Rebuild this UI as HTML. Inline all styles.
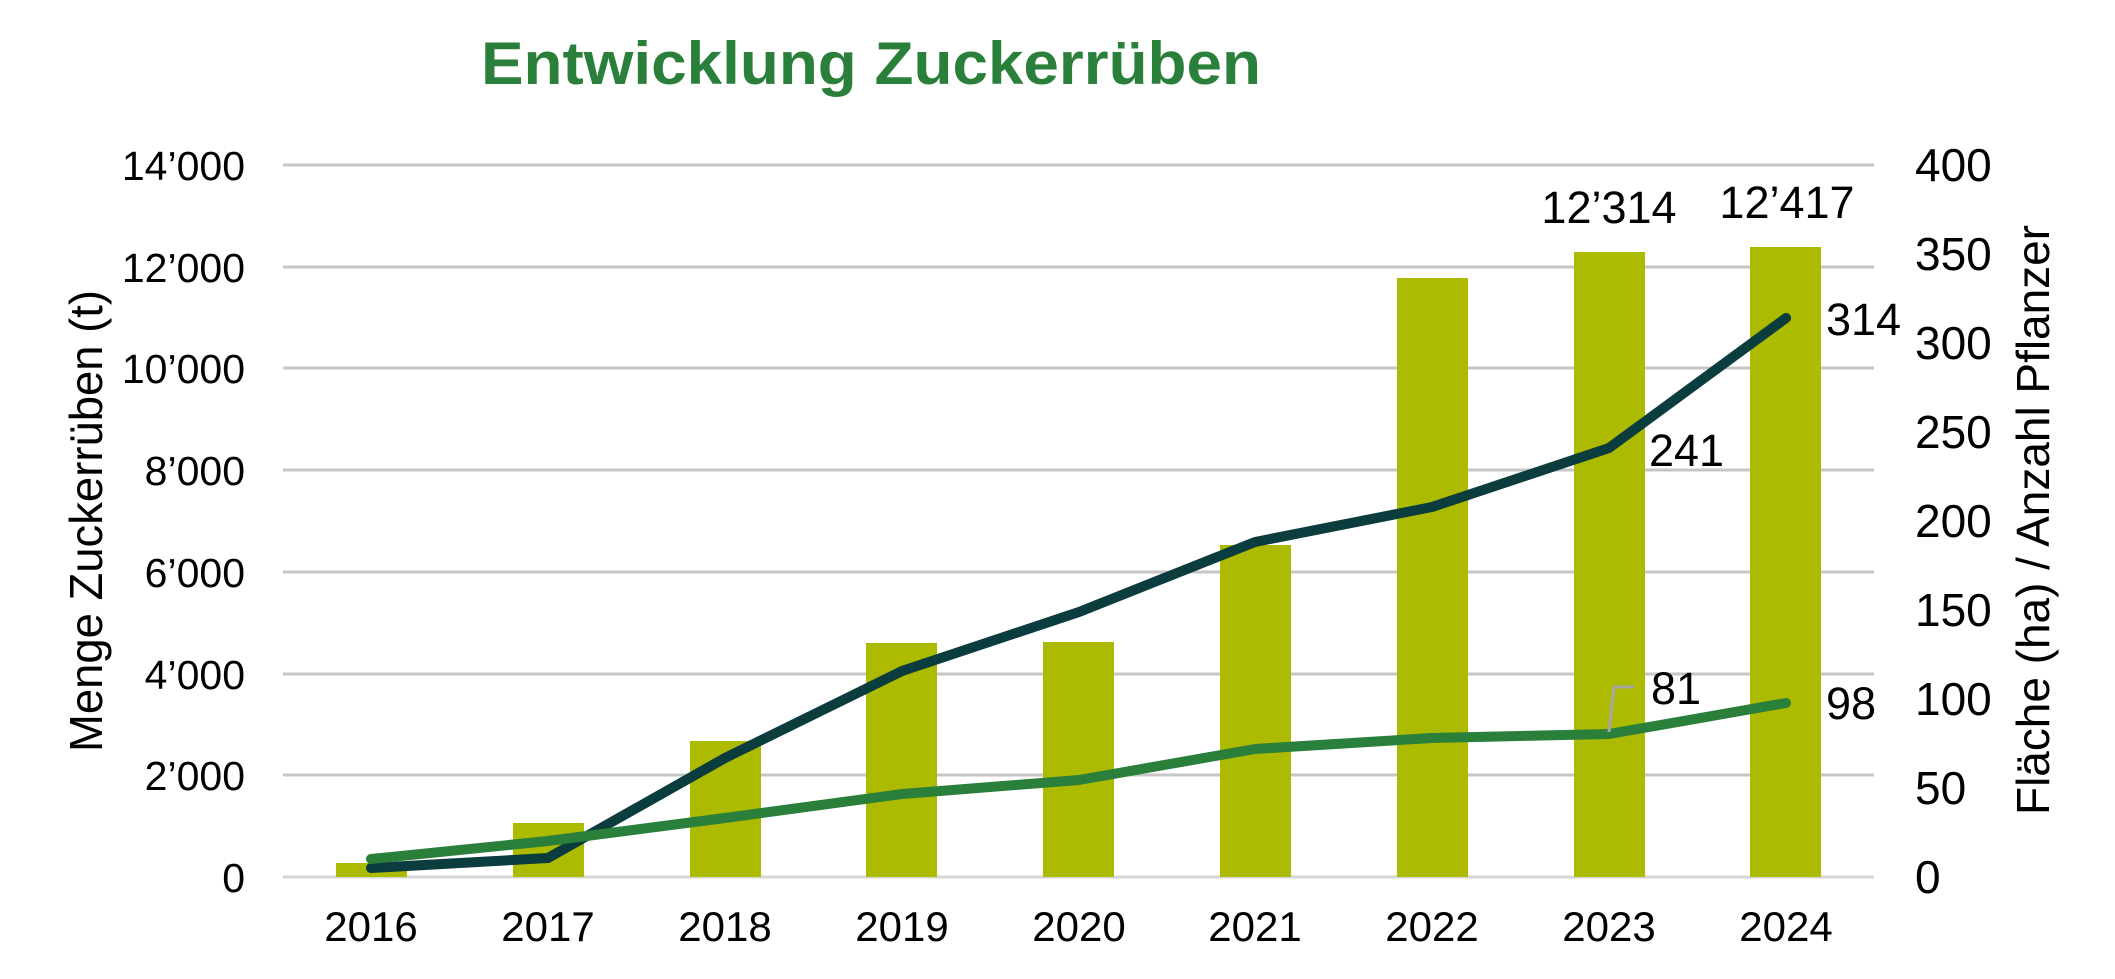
<!DOCTYPE html>
<html><head><meta charset="utf-8"><style>
html,body{margin:0;padding:0;background:#fff;}
svg{display:block;}
text{font-family:"Liberation Sans",sans-serif;fill:#000;}
</style></head><body>
<svg width="2115" height="979" viewBox="0 0 2115 979" xmlns="http://www.w3.org/2000/svg">
<text x="481" y="84" font-size="60" font-weight="bold" style="fill:#2a7f3a" textLength="780" lengthAdjust="spacingAndGlyphs">Entwicklung Zuckerrüben</text>
<g stroke="#c6c6c6" stroke-width="3">
<line x1="283" x2="1874" y1="165" y2="165"/>
<line x1="283" x2="1874" y1="267" y2="267"/>
<line x1="283" x2="1874" y1="368" y2="368"/>
<line x1="283" x2="1874" y1="470" y2="470"/>
<line x1="283" x2="1874" y1="572" y2="572"/>
<line x1="283" x2="1874" y1="674" y2="674"/>
<line x1="283" x2="1874" y1="775" y2="775"/>
<line x1="283" x2="1874" y1="877" y2="877" stroke="#d6d6d6"/>
</g>
<g font-size="41" text-anchor="end">
<text x="245" y="180">14’000</text>
<text x="245" y="282">12’000</text>
<text x="245" y="383">10’000</text>
<text x="245" y="485">8’000</text>
<text x="245" y="587">6’000</text>
<text x="245" y="689">4’000</text>
<text x="245" y="790">2’000</text>
<text x="245" y="892">0</text>
</g>
<g font-size="46">
<text x="1915" y="181">400</text>
<text x="1915" y="270">350</text>
<text x="1915" y="359">300</text>
<text x="1915" y="448">250</text>
<text x="1915" y="537">200</text>
<text x="1915" y="626">150</text>
<text x="1915" y="715">100</text>
<text x="1915" y="804">50</text>
<text x="1915" y="893">0</text>
</g>
<g fill="#acbb00">
<rect x="336" y="863" width="71" height="14"/>
<rect x="513" y="823" width="71" height="54"/>
<rect x="690" y="741" width="71" height="136"/>
<rect x="866" y="643" width="71" height="234"/>
<rect x="1043" y="642" width="71" height="235"/>
<rect x="1220" y="545" width="71" height="332"/>
<rect x="1397" y="278" width="71" height="599"/>
<rect x="1574" y="252" width="71" height="625"/>
<rect x="1750" y="247" width="71" height="630"/>
</g>
<polyline fill="none" stroke="#0b3c3e" stroke-width="10" stroke-linecap="round" stroke-linejoin="round" points="371,868 548,858 725,758 902,671 1079,612 1255,542 1432,507 1609,448 1786,318"/>
<polyline fill="none" stroke="#2a7f3a" stroke-width="10" stroke-linecap="round" stroke-linejoin="round" points="371,859 548,841 725,818 902,794 1079,780 1255,749 1432,738 1609,734 1786,703"/>
<polyline fill="none" stroke="#a6a6a6" stroke-width="3" points="1609,732 1614,687 1634,687"/>
<g font-size="45">
<text x="1609" y="223" text-anchor="middle">12’314</text>
<text x="1787" y="218" text-anchor="middle">12’417</text>
<text x="1826" y="335">314</text>
<text x="1649" y="466">241</text>
<text x="1651" y="704">81</text>
<text x="1826" y="719">98</text>
</g>
<g font-size="42" text-anchor="middle">
<text x="371" y="941">2016</text>
<text x="548" y="941">2017</text>
<text x="725" y="941">2018</text>
<text x="902" y="941">2019</text>
<text x="1079" y="941">2020</text>
<text x="1255" y="941">2021</text>
<text x="1432" y="941">2022</text>
<text x="1609" y="941">2023</text>
<text x="1786" y="941">2024</text>
</g>
<text transform="translate(102,521) rotate(-90)" font-size="46" text-anchor="middle" textLength="462" lengthAdjust="spacingAndGlyphs">Menge Zuckerrüben (t)</text>
<text transform="translate(2049,520) rotate(-90)" font-size="46" text-anchor="middle" textLength="590" lengthAdjust="spacingAndGlyphs">Fläche (ha) / Anzahl Pflanzer</text>
</svg>
</body></html>
